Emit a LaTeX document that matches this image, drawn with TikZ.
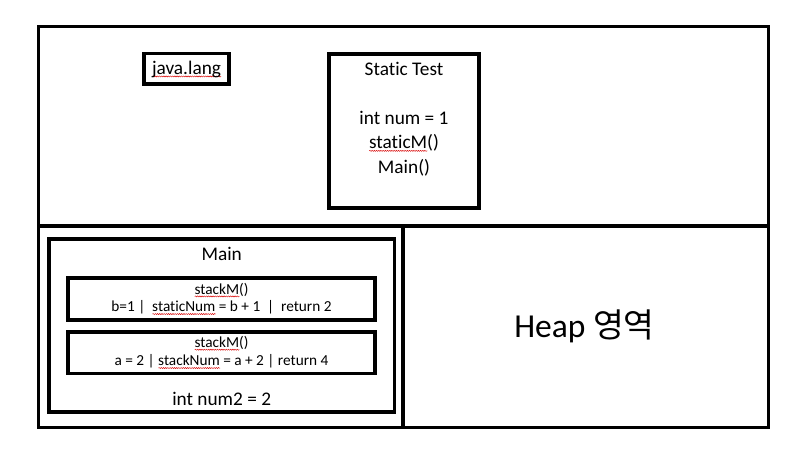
\documentclass[tikz,border=0pt]{standalone}
\usepackage{fontspec}
\setmainfont{Carlito}[Ligatures={NoCommon}]
\newfontfamily\krfont{Noto Sans CJK KR}
\usetikzlibrary{decorations.pathmorphing}
\newsavebox\sqbox
\newcommand\sq[1]{\leavevmode\sbox\sqbox{#1}\rlap{\tikz[baseline=0pt]\draw[red!85!black, line width=0.45pt, decorate, decoration={snake, amplitude=0.55pt, segment length=2.2pt}] (0pt,-2.4pt) -- (\wd\sqbox,-2.4pt);}\usebox\sqbox}
\tikzset{
  frame/.style={draw=black, line width=3.3pt},
  box/.style={draw=black, line width=3.2pt},
  lbl/.style={inner sep=0pt, anchor=center, font=\fontsize{19.3}{23}\selectfont},
  small/.style={inner sep=0pt, anchor=center, font=\fontsize{15.3}{18}\selectfont},
}
\begin{document}
\begin{tikzpicture}[x=1pt,y=-1pt]
\useasboundingbox (0,0) rectangle (806,453);
\fill[white] (0,0) rectangle (806,453);
% outer frame
\draw[frame] (38.7,26.3) rectangle (768.5,427.5);
\coordinate (hl) at (38.7,226);
\coordinate (hr) at (768.5,226);
\coordinate (vt) at (403,226);
\coordinate (vb) at (403,427.5);
\draw[frame] (hl) -- (hr);
\draw[frame] (vt) -- (vb);
% java.lang
\draw[box] (144,53.3) rectangle (229,84);
\node[lbl] (java) at (186.5,69) {\sq{java.lang}};
% Static Test
\draw[box] (329,54) rectangle (479,208);
\node[lbl] (st) at (404,69) {Static Test};
\node[lbl] (num) at (404,118.3) {int num = 1};
\node[lbl] (sm) at (404,143) {\sq{staticM}()};
\node[lbl] (mn) at (404,168) {Main()};
% Main
\draw[box] (49,239) rectangle (394.5,412);
\node[lbl] (main) at (221.7,254) {Main};
\draw[box] (68,278) rectangle (375,320);
\node[small] (s1) at (221.5,290) {\sq{stackM}()};
\node[small] (l1) at (221.5,307.7) {b=1 |\ \ \sq{staticNum} = b + 1\ \ |\ \ return 2};
\draw[box] (68,332) rectangle (375,373.7);
\node[small] (s2) at (221.5,343.3) {\sq{stackM}()};
\node[small] (l2) at (221.5,361.7) {a = 2 | \sq{stackNum} = a + 2 | return 4};
\node[lbl] (n2) at (221.7,399) {int num2 = 2};
% Heap
\node[inner sep=0pt, anchor=base, font=\fontsize{33.5}{40}\selectfont] (heap) at (584.5,337) {Heap {\krfont 영역}};
\end{tikzpicture}
\end{document}
